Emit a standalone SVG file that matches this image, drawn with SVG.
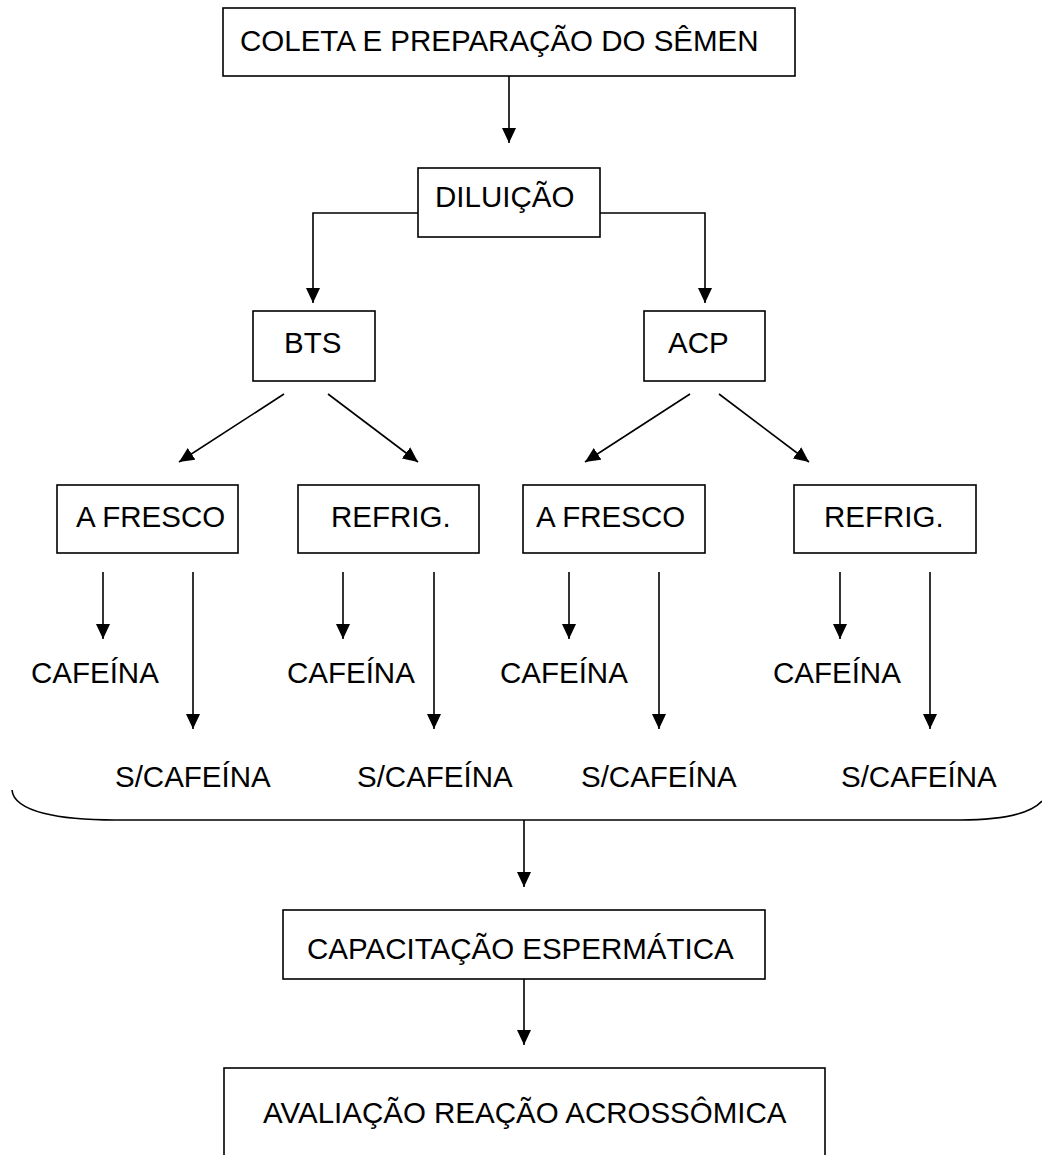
<svg xmlns="http://www.w3.org/2000/svg" width="1042" height="1155" viewBox="0 0 1042 1155">
<style>
.box{fill:#fff;stroke:#000;stroke-width:1.6}
.t{font-family:"Liberation Sans",Arial,sans-serif;font-size:29.5px;fill:#000}
.c{fill:none;stroke:#000;stroke-width:1.6}
</style>
<defs>
<marker id="ah" markerUnits="userSpaceOnUse" markerWidth="16" markerHeight="15" refX="15" refY="7" orient="auto" viewBox="0 0 16 14">
<path d="M0,0 L15,7 L0,14 z" fill="#000"/>
</marker>
</defs>
<rect width="1042" height="1155" fill="#fff"/>
<g id="connectors">
<line class="c" x1="509" y1="76" x2="509" y2="143" marker-end="url(#ah)"/>
<polyline class="c" points="418,213 313,213 313,303" marker-end="url(#ah)"/>
<polyline class="c" points="600,213 705,213 705,303" marker-end="url(#ah)"/>
<line class="c" x1="284" y1="394" x2="179" y2="462" marker-end="url(#ah)"/>
<line class="c" x1="328" y1="394" x2="418" y2="462" marker-end="url(#ah)"/>
<line class="c" x1="690" y1="394" x2="585" y2="462" marker-end="url(#ah)"/>
<line class="c" x1="719" y1="394" x2="809" y2="462" marker-end="url(#ah)"/>
<line class="c" x1="103" y1="572" x2="103" y2="639" marker-end="url(#ah)"/>
<line class="c" x1="193" y1="572" x2="193" y2="729" marker-end="url(#ah)"/>
<line class="c" x1="343" y1="572" x2="343" y2="639" marker-end="url(#ah)"/>
<line class="c" x1="434" y1="572" x2="434" y2="729" marker-end="url(#ah)"/>
<line class="c" x1="569" y1="572" x2="569" y2="639" marker-end="url(#ah)"/>
<line class="c" x1="659" y1="572" x2="659" y2="729" marker-end="url(#ah)"/>
<line class="c" x1="840" y1="572" x2="840" y2="639" marker-end="url(#ah)"/>
<line class="c" x1="930" y1="572" x2="930" y2="729" marker-end="url(#ah)"/>
<path class="c" d="M12,790 C14,812 60,820 115,820 L960,820 C1000,820 1030,814 1042,801"/>
<line class="c" x1="524" y1="820" x2="524" y2="887" marker-end="url(#ah)"/>
<line class="c" x1="524" y1="979" x2="524" y2="1045" marker-end="url(#ah)"/>
</g>
<g id="n-coleta"><rect class="box" x="223" y="8" width="572" height="68"/><text class="t" x="240" y="51">COLETA E PREPARAÇÃO DO SÊMEN</text></g>
<g id="n-diluicao"><rect class="box" x="418" y="168" width="182" height="69"/><text class="t" x="435" y="207">DILUIÇÃO</text></g>
<g id="n-bts"><rect class="box" x="253" y="311" width="122" height="70"/><text class="t" x="284" y="353">BTS</text></g>
<g id="n-acp"><rect class="box" x="644" y="311" width="121" height="70"/><text class="t" x="668" y="353">ACP</text></g>
<g id="n-fresco1"><rect class="box" x="57" y="485" width="181" height="68"/><text class="t" x="76" y="527">A FRESCO</text></g>
<g id="n-refrig1"><rect class="box" x="298" y="485" width="181" height="68"/><text class="t" x="331" y="527">REFRIG.</text></g>
<g id="n-fresco2"><rect class="box" x="523" y="485" width="182" height="68"/><text class="t" x="536" y="527">A FRESCO</text></g>
<g id="n-refrig2"><rect class="box" x="794" y="485" width="182" height="68"/><text class="t" x="824" y="527">REFRIG.</text></g>
<g id="n-caf1"><text class="t" x="31" y="683">CAFEÍNA</text></g>
<g id="n-caf2"><text class="t" x="287" y="683">CAFEÍNA</text></g>
<g id="n-caf3"><text class="t" x="500" y="683">CAFEÍNA</text></g>
<g id="n-caf4"><text class="t" x="773" y="683">CAFEÍNA</text></g>
<g id="n-scaf1"><text class="t" x="115" y="787">S/CAFEÍNA</text></g>
<g id="n-scaf2"><text class="t" x="357" y="787">S/CAFEÍNA</text></g>
<g id="n-scaf3"><text class="t" x="581" y="787">S/CAFEÍNA</text></g>
<g id="n-scaf4"><text class="t" x="841" y="787">S/CAFEÍNA</text></g>
<g id="n-capacitacao"><rect class="box" x="283" y="910" width="482" height="69"/><text class="t" x="307" y="959">CAPACITAÇÃO ESPERMÁTICA</text></g>
<g id="n-avaliacao"><rect class="box" x="224" y="1068" width="601" height="120"/><text class="t" x="263" y="1123">AVALIAÇÃO REAÇÃO ACROSSÔMICA</text></g>
</svg>
